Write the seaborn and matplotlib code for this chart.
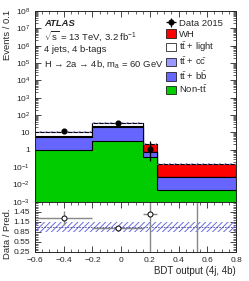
import numpy as np
import pandas as pd
import matplotlib
matplotlib.use("Agg")
import matplotlib.pyplot as plt
import seaborn as sns
from matplotlib.patches import Patch
from matplotlib.ticker import FixedLocator, FixedFormatter, MultipleLocator, LogLocator, NullFormatter

# bin edges of the BDT output
bin_edges = [-0.6, -0.2, 0.15, 0.25, 0.8]

# stacked predictions per bin (events)
non_tt = [0.9, 3.3, 0.38, 0.005]
tt_bb = [4.7, 16.0, 0.33, 0.021]
tt_cc = [0.9, 4.5, 0.03, 0.0006]
tt_light = [3.5, 12.0, 0.03, 0.0006]
wh = [0.05, 0.1, 1.33, 0.118]

# data
data_2015 = [12.5, 34.7, 1.07, 0.0]
data_err_lo = [2.0, 3.0, 0.84, 0.0]
data_err_hi = [2.0, 3.0, 2.3, 1.84]

# ratio errors
ratio_err_lo = [0.2, 0.05, 1.3, 0.0]
ratio_err_hi = [0.22, 0.05, 2.0, 3.0]
pred_unc = 0.14

y_ticks = [1e-3, 1e-2, 1e-1, 1, 10, 1e2, 1e3, 1e4, 1e5, 1e6, 1e7, 1e8]
y_ticklabels = ["$10^{-3}$", "$10^{-2}$", "$10^{-1}$", "1", "10", "$10^{2}$", "$10^{3}$",
                "$10^{4}$", "$10^{5}$", "$10^{6}$", "$10^{7}$", "$10^{8}$"]
ratio_ticks = [0.25, 0.55, 0.85, 1.15, 1.45]
x_ticks = [-0.6, -0.4, -0.2, 0, 0.2, 0.4, 0.6, 0.8]

colors = {"WH": "#ff0000", "light": "#ffffff", "cc": "#9999ff", "bb": "#6666ff", "non": "#00cc00"}

sns.set_theme(style="ticks")
plt.rcParams["font.family"] = ["Liberation Sans", "DejaVu Sans"]
plt.rcParams["mathtext.fontset"] = "custom"
plt.rcParams["mathtext.rm"] = "Liberation Sans"
plt.rcParams["mathtext.it"] = "Liberation Sans"
plt.rcParams["mathtext.bf"] = "Liberation Sans:bold"
for a in ["xtick", "ytick"]:
    plt.rcParams[a + ".direction"] = "in"
    plt.rcParams[a + ".major.width"] = 0.6
    plt.rcParams[a + ".minor.width"] = 0.5
    plt.rcParams[a + ".labelsize"] = 6
plt.rcParams["xtick.top"] = True
plt.rcParams["ytick.right"] = True
plt.rcParams["axes.linewidth"] = 0.7
plt.rcParams["hatch.linewidth"] = 0.7

W, H = 249, 281
fig = plt.figure(figsize=(W / 100, H / 100), dpi=100)
ax = fig.add_axes([35 / W, 1 - 201.7 / H, 201 / W, 190.7 / H])
rax = fig.add_axes([35 / W, 1 - 252 / H, 201 / W, 50.3 / H], sharex=ax)

edges = np.array(bin_edges)
centers = 0.5 * (edges[1:] + edges[:-1])
half_w = 0.5 * (edges[1:] - edges[:-1])

c1 = np.array(non_tt)
c2 = c1 + np.array(tt_bb)
c3 = c2 + np.array(tt_cc)
c4 = c3 + np.array(tt_light)
c5 = c4 + np.array(wh)

ax.set_yscale("log")
layers = [(c5, colors["WH"]), (c4, colors["light"]), (c3, colors["cc"]),
          (c2, colors["bb"]), (c1, colors["non"])]
for vals, col in layers:
    df = pd.DataFrame({"x": centers, "w": vals})
    sns.histplot(data=df, x="x", weights="w", bins=list(bin_edges), element="step", fill=True,
                 color=col, alpha=1, edgecolor="black", linewidth=0.8, ax=ax)

# uncertainty band
band_lo = np.append(c5 * (1 - pred_unc), c5[-1] * (1 - pred_unc))
band_hi = np.append(c5 * (1 + pred_unc), c5[-1] * (1 + pred_unc))
ax.fill_between(edges, band_lo, band_hi, step="post", facecolor="none",
                edgecolor="#8080d8", hatch="//////", linewidth=0)

data = np.array(data_2015)
dmask = data > 0
ax.errorbar(centers[dmask], data[dmask], xerr=0 * half_w[dmask],
            yerr=[np.array(data_err_lo)[dmask], np.array(data_err_hi)[dmask]],
            fmt="o", color="black", ms=3.4, elinewidth=0.9, capsize=0)

ax.set_xlim(-0.6, 0.8)
ax.set_ylim(1e-3, 1e8)
ax.yaxis.set_major_locator(FixedLocator(y_ticks))
ax.yaxis.set_major_formatter(FixedFormatter(y_ticklabels))
ax.yaxis.set_minor_locator(LogLocator(base=10, subs=np.arange(2, 10), numticks=100))
ax.yaxis.set_minor_formatter(NullFormatter())
ax.tick_params(which="major", length=4)
ax.tick_params(which="minor", length=2)
ax.tick_params(axis="x", labelbottom=False)
ax.set_xlabel("")
ax.set_ylabel("")

# ratio panel
bkg = c4
ratio = data / bkg
rax.fill_between(edges, 1 - pred_unc, 1 + pred_unc, facecolor="none",
                 edgecolor="#6c6ce0", hatch="//////", linewidth=0)
rax.axhline(1.0, color="#4848a0", ls="--", lw=0.6, dashes=(2, 1.5))
rax.errorbar(centers, ratio, xerr=half_w, yerr=[ratio_err_lo, ratio_err_hi], fmt="o",
             mfc="white", mec="black", mew=0.7, ms=3.6, ecolor="#888888",
             elinewidth=1.0, capsize=0)
rax.set_ylim(0.25, 1.75)
rax.yaxis.set_major_locator(FixedLocator(ratio_ticks))
rax.yaxis.set_minor_locator(MultipleLocator(0.05))
rax.xaxis.set_major_locator(FixedLocator(x_ticks))
rax.xaxis.set_minor_locator(MultipleLocator(0.05))
rax.set_xticklabels([("\u2212" if v < 0 else "") + ("%.1f" % abs(v) if v != 0 else "0") for v in x_ticks])
rax.tick_params(which="major", length=4)
rax.tick_params(which="minor", length=2)
rax.set_ylabel("")
rax.set_xlabel("")

fig.text(236 / W, 1 - 271 / H, "BDT output (4j, 4b)", ha="right", va="center", fontsize=7)
fig.text(7 / W, 1 - 10 / H, "Events / 0.1", rotation=90, ha="center", va="top", fontsize=6.8)
fig.text(7 / W, 1 - 234 / H, "Data / Pred.", rotation=90, ha="center", va="center", fontsize=6.8)

tx = 44 / W
fig.text(tx, 1 - 24 / H, "ATLAS", fontsize=6.8, fontweight="bold", fontstyle="italic", va="center")
fig.text(tx, 1 - 36.5 / H, r"$\sqrt{s}$ = 13 TeV, 3.2 fb$^{-1}$", fontsize=6.8, va="center")
fig.text(tx, 1 - 50 / H, "4 jets, 4 b-tags", fontsize=6.8, va="center")
fig.text(tx, 1 - 63.5 / H, "H \u2192 2a \u2192 4b, m$_{a}$ = 60 GeV", fontsize=6.8, va="center")

data_handle = ax.errorbar([np.nan], [np.nan], xerr=[1], yerr=[1], fmt="o", color="black",
                          ms=3.4, elinewidth=0.9)
handles = [data_handle,
           Patch(facecolor=colors["WH"], edgecolor="black", lw=0.5),
           Patch(facecolor=colors["light"], edgecolor="black", lw=0.5),
           Patch(facecolor=colors["cc"], edgecolor="black", lw=0.5),
           Patch(facecolor=colors["bb"], edgecolor="black", lw=0.5),
           Patch(facecolor=colors["non"], edgecolor="black", lw=0.5)]
labels = ["Data 2015", "WH", r"$t\bar{t}$ + light", r"$t\bar{t}$ + $c\bar{c}$",
          r"$t\bar{t}$ + $b\bar{b}$", r"Non-$t\bar{t}$"]
fig.legend(handles, labels, loc="upper left", bbox_to_anchor=(166 / W, 1 - 18.5 / H),
           frameon=False, fontsize=6.8, borderpad=0, borderaxespad=0, handlelength=1.1,
           handleheight=1.0, handletextpad=0.3, labelspacing=0.16)

fig.savefig("out.png", dpi=100)
